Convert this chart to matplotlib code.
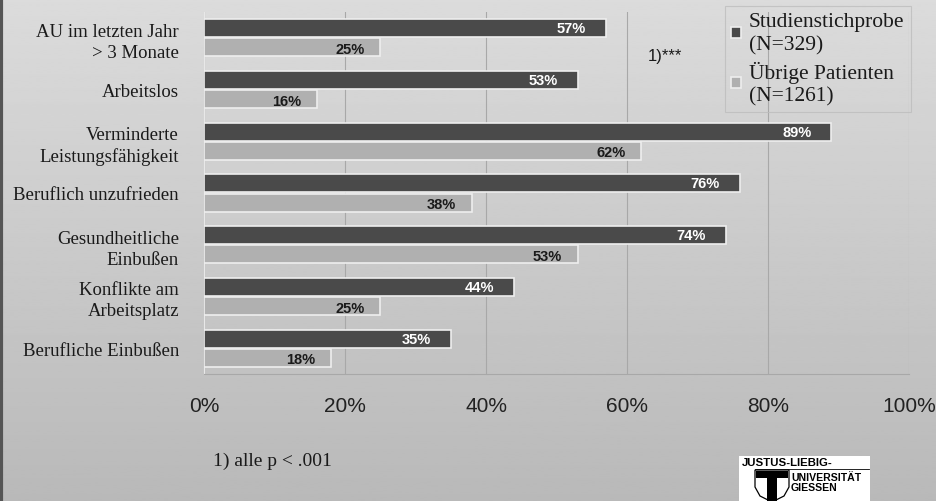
import numpy as np
import matplotlib.pyplot as plt
from matplotlib.patches import Rectangle, Polygon

# data
categories = ['AU im letzten Jahr\n> 3 Monate', 'Arbeitslos', 'Verminderte\nLeistungsfähigkeit',
              'Beruflich unzufrieden', 'Gesundheitliche\nEinbußen', 'Konflikte am\nArbeitsplatz',
              'Berufliche Einbußen']
studie = [57, 53, 89, 76, 74, 44, 35]
uebrige = [25, 16, 62, 38, 53, 25, 18]
series_names = ['Studienstichprobe\n(N=329)', 'Übrige Patienten\n(N=1261)']
xticks = [0, 20, 40, 60, 80, 100]

W, H = 936, 502
fig = plt.figure(figsize=(W / 100, H / 100), dpi=100)

# gradient background
bg = fig.add_axes([0, 0, 1, 1], zorder=-10)
grad = np.linspace(0.86, 0.725, 256).reshape(-1, 1)
bg.imshow(grad, cmap='gray', vmin=0, vmax=1, aspect='auto', extent=[0, 1, 0, 1])
bg.axvline(0.0015, color='#555555', lw=3)
bg.set_xlim(0, 1)
bg.set_ylim(0, 1)
bg.axis('off')

ax = fig.add_axes([204 / W, 1 - 375 / H, 705 / W, 362 / H])
ax.patch.set_alpha(0)

y = np.arange(len(categories))
h = 0.35
off = 0.185
ax.barh(y - off, studie, height=h, color='#4a4a4a', edgecolor='#eeeeee', lw=1.2, zorder=3,
        label=series_names[0])
ax.barh(y + off, uebrige, height=h, color='#b0b0b0', edgecolor='#eeeeee', lw=1.2, zorder=3,
        label=series_names[1])

for i in range(len(categories)):
    ax.text(studie[i] - 2.8, y[i] - off, f'{studie[i]}%', ha='right', va='center',
            color='white', fontsize=10.5, fontweight='bold', family='Liberation Sans', zorder=4)
    ax.text(uebrige[i] - 2.2, y[i] + off + 0.03, f'{uebrige[i]}%', ha='right', va='center',
            color='#1a1a1a', fontsize=10.5, fontweight='bold', family='Liberation Sans', zorder=4)

ax.set_xlim(0, 100)
ax.set_ylim(len(categories) - 0.5, -0.5)
ax.set_xticks(xticks)
ax.set_xticklabels([f'{t}%' for t in xticks], family='Liberation Sans', fontsize=15, color='#222222')
ax.set_yticks(y)
ax.set_yticklabels(categories, family='Liberation Serif', fontsize=13.5, color='#1a1a1a',
                   linespacing=1.3)
ax.tick_params(axis='x', length=0, pad=16)
ax.tick_params(axis='y', length=0, pad=18)
ax.grid(axis='x', color='#a8a8a8', lw=0.8, zorder=0)
for s in ['top', 'right']:
    ax.spines[s].set_visible(False)
ax.spines['left'].set_color('#e8e8e8')
ax.spines['bottom'].set_color('#a8a8a8')
ax.spines['bottom'].set_linewidth(0.8)

leg = ax.legend(loc='upper left', bbox_to_anchor=(725 / W, 1 - 7 / H), bbox_transform=fig.transFigure,
                prop={'family': 'Liberation Serif', 'size': 15.5}, frameon=True, fancybox=False,
                handlelength=0.45, handleheight=0.45, handletextpad=0.35, labelspacing=0.3,
                borderpad=0.3, borderaxespad=0)
leg.get_frame().set_facecolor('none')
leg.get_frame().set_edgecolor('#bdbdbd')
leg.get_frame().set_linewidth(0.8)
for t in leg.get_texts():
    t.set_linespacing(1.25)
    t.set_color('#1a1a1a')

fig.text(665 / W, 1 - 56 / H, '1)***', ha='center', va='center', family='Liberation Sans',
         fontsize=12, color='#1a1a1a')
fig.text(213 / W, 1 - 461 / H, '1) alle p < .001', ha='left', va='center', family='Liberation Serif',
         fontsize=14, color='#1a1a1a')

# university logo
fig.patches.append(Rectangle((739 / W, 0), 131 / W, 45 / H, transform=fig.transFigure,
                             facecolor='white', edgecolor='none', zorder=5))
fig.text(742 / W, 1 - 463 / H, 'JUSTUS-LIEBIG-', ha='left', va='center', family='Liberation Sans',
         fontsize=8.2, fontweight='bold', color='black', zorder=6)
fig.add_artist(plt.Line2D([755 / W, 869 / W], [1 - 470 / H, 1 - 470 / H], transform=fig.transFigure,
                          color='black', lw=0.6, zorder=6))
fig.text(791 / W, 1 - 478 / H, 'UNIVERSITÄT', ha='left', va='center', family='Liberation Sans',
         fontsize=7.6, fontweight='bold', color='black', zorder=6)
fig.text(791 / W, 1 - 488 / H, 'GIESSEN', ha='left', va='center', family='Liberation Sans',
         fontsize=7.6, fontweight='bold', color='black', zorder=6)
shield = [(755, 471), (789, 471), (789, 488), (784, 497), (772, 503), (760, 497), (755, 488)]
fig.patches.append(Polygon([(sx / W, 1 - sy / H) for sx, sy in shield], closed=True,
                           transform=fig.transFigure, facecolor='white', edgecolor='black',
                           lw=0.9, zorder=6))
tee = [(756, 472), (788, 472), (788, 479), (777, 479), (777, 502), (767, 502), (767, 479), (756, 479)]
fig.patches.append(Polygon([(sx / W, 1 - sy / H) for sx, sy in tee], closed=True,
                           transform=fig.transFigure, facecolor='black', edgecolor='none', zorder=7))

fig.savefig('out.png', dpi=100)
